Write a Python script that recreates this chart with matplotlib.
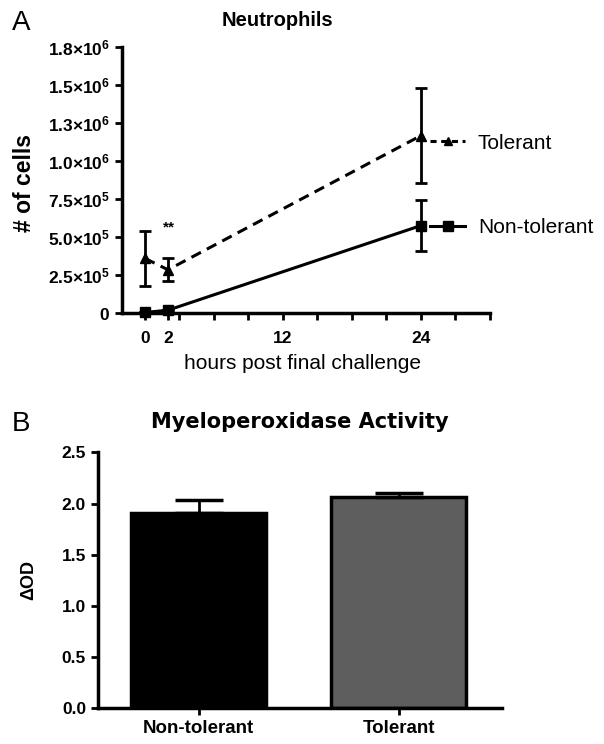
import numpy as np
import matplotlib.pyplot as plt
from matplotlib.lines import Line2D

plt.rcParams['font.family'] = ['Liberation Sans', 'DejaVu Sans']
plt.rcParams['mathtext.fontset'] = 'custom'
plt.rcParams['mathtext.rm'] = 'Liberation Sans'
plt.rcParams['mathtext.bf'] = 'Liberation Sans:bold'

# panel A - neutrophil counts
hours = [0, 2, 24]
tolerant = [3.6e5, 2.85e5, 1.165e6]
tolerant_err = [1.8e5, 7.5e4, 3.1e5]
nontolerant = [5e3, 2.0e4, 5.75e5]
nontolerant_err = [0, 0, 1.65e5]
y_ticks = [0, 2.5e5, 5.0e5, 7.5e5, 1.0e6, 1.25e6, 1.5e6, 1.75e6]
y_ticklabels = ['0', '2.5×10^5', '5.0×10^5', '7.5×10^5',
                '1.0×10^6', '1.3×10^6', '1.5×10^6', '1.8×10^6']
x_ticks = [0, 2, 12, 24]
x_minor = [3, 6, 9, 15, 18, 21, 27, 30]

# panel B - MPO activity
groups = ['Non-tolerant', 'Tolerant']
mpo = [1.91, 2.06]
mpo_err = [0.12, 0.04]
bar_colors = ['black', '#5e5e5e']


def fmt_label(s):
    if s == '0':
        return r'$\mathbf{0}$'
    base, exp = s.split('^')
    base = base.replace('×', r'{\times}')
    return r'$\mathbf{' + base + '^{' + exp + '}}$'


fig = plt.figure(figsize=(6.04, 7.44), dpi=100)

axA = fig.add_axes([0.202, 0.579, 0.609, 0.3585])
axA.errorbar(hours, tolerant, yerr=tolerant_err, color='black', lw=2.2,
             ls=(0, (3.5, 2.2)), marker='^', ms=7, capsize=4, capthick=2,
             elinewidth=2, zorder=3, clip_on=False)
axA.errorbar(hours, nontolerant, yerr=nontolerant_err, color='black', lw=2.2,
             marker='s', ms=7, capsize=4, capthick=2, elinewidth=2,
             zorder=3, clip_on=False)
axA.set_xlim(-2, 30)
axA.set_ylim(0, 1.75e6)
axA.set_yticks(y_ticks)
axA.set_yticklabels([fmt_label(s) for s in y_ticklabels], fontsize=12.5)
axA.set_xticks(x_ticks)
axA.set_xticklabels(x_ticks, fontsize=12.5, fontweight='bold')
axA.set_xticks(x_minor, minor=True)
axA.tick_params(which='both', direction='out', length=5, width=2)
axA.tick_params(axis='x', pad=8)
for s in ['top', 'right']:
    axA.spines[s].set_visible(False)
for s in ['left', 'bottom']:
    axA.spines[s].set_linewidth(2.5)
axA.set_xlabel('hours post final challenge', fontsize=15)
axA.xaxis.set_label_coords(0.49, -0.187)
axA.xaxis.label.set_va('center')
axA.set_ylabel('# of cells', fontsize=16.5, fontweight='bold')
axA.yaxis.set_label_coords(-0.266, 0.49)
axA.yaxis.label.set_va('center')
axA.text(2.1, 5.6e5, '**', ha='center', va='center', fontsize=11,
         fontweight='bold')

handles = [
    Line2D([], [], color='black', lw=2.2, ls=(0, (2, 1.5)), marker='^', ms=6),
    Line2D([], [], color='black', lw=2.2, marker='s', ms=7),
]
axA.legend(handles, ['Tolerant', 'Non-tolerant'], loc='center left',
           bbox_to_anchor=(0.837, 0.479), frameon=False, fontsize=15,
           borderpad=0, borderaxespad=0, handlelength=1.7,
           handletextpad=0.6, labelspacing=3.15)

fig.text(0.02, 0.969, 'A', fontsize=20, va='center', ha='left')
fig.text(0.459, 0.973, 'Neutrophils', fontsize=14.5, fontweight='bold',
         va='center', ha='center')

# panel B
axB = fig.add_axes([0.162, 0.048, 0.669, 0.344])
x = np.arange(len(groups))
axB.bar(x, mpo, width=0.675, color=bar_colors, edgecolor='black',
        linewidth=2.5, zorder=2)
axB.errorbar(x, mpo, yerr=[[0, 0], mpo_err], fmt='none', ecolor='black',
             elinewidth=2, capsize=17, capthick=2.5, zorder=3)
axB.set_xlim(-0.505, 1.515)
axB.set_ylim(0, 2.5)
axB.set_yticks([0, 0.5, 1.0, 1.5, 2.0, 2.5])
axB.set_yticklabels(['0.0', '0.5', '1.0', '1.5', '2.0', '2.5'],
                    fontsize=12.5, fontweight='bold')
axB.set_xticks(x)
axB.set_xticklabels(groups, fontsize=13.5, fontweight='bold')
axB.tick_params(direction='out', length=5, width=2)
for s in ['top', 'right']:
    axB.spines[s].set_visible(False)
for s in ['left', 'bottom']:
    axB.spines[s].set_linewidth(2.5)
axB.set_ylabel('ΔOD', fontsize=13, fontweight='bold')
axB.yaxis.set_label_coords(-0.171, 0.5)
axB.yaxis.label.set_va('center')

fig.text(0.02, 0.43, 'B', fontsize=20, va='center', ha='left')
fig.text(0.496, 0.433, 'Myeloperoxidase Activity', fontsize=15,
         fontweight='bold', family='DejaVu Sans', va='center', ha='center')

fig.savefig('out.png', dpi=100)
